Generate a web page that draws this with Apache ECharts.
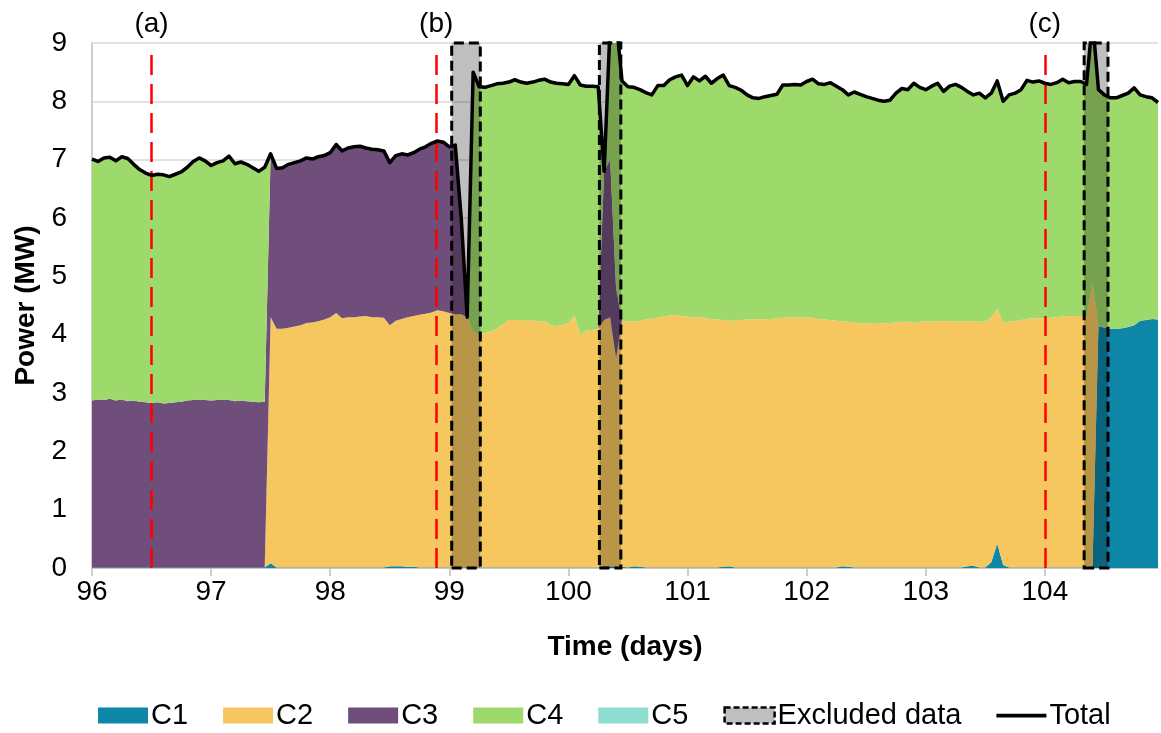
<!DOCTYPE html>
<html>
<head>
<meta charset="utf-8">
<script src="https://cdn.jsdelivr.net/npm/echarts@6/dist/echarts.min.js"></script>
<style>html,body{margin:0;padding:0;background:#fff}#c{width:1161px;height:733px}</style>
</head>
<body>
<div id="c"></div>
<script>
// sampling grid: start day and step (days)
const tStart = 96, tStep = 0.05;

const C1 = [
0.01,0.01,0.01,0.01,0.01,0.01,0.01,0.01,0.01,0.01,0.01,0.01,0.01,0.01,0.01,0.01,0.01,0.01,0.01,0.01,0.01,0.01,0.01,0.01,0.01,0.01,0.01,0.01,0.01,0.01,
0.08,0.01,0.01,0.01,0.01,0.01,0.01,0.01,0.01,0.01,0.01,0.01,0.01,0.01,0.01,0.01,0.01,0.01,0.01,0.01,
0.03,0.03,0.03,0.02,0.02,0.01,0.01,0.01,0.01,0.01,0.01,0.01,0.01,0.01,
0.01,0.01,0.01,0.01,0.01,0.01,0.01,0.01,0.01,0.01,0.01,0.01,0.01,0.01,0.01,0.01,0.01,0.01,0.01,0.01,0.01,0.01,
0.03,0.03,0.02,
0.02,0.01,0.03,0.02,0.01,0.01,0.01,0.01,0.01,0.01,0.01,0.01,0.01,0.01,0.01,0.01,0.01,0.02,0.03,
0.01,0.01,0.01,0.01,0.01,0.01,0.01,0.01,0.01,0.01,0.01,0.01,0.01,0.01,0.01,0.01,0.01,0.01,0.03,0.02,
0.01,0.01,0.01,0.01,0.01,0.01,0.01,0.01,0.01,0.01,0.01,0.01,0.01,0.01,0.01,0.01,0.01,0.01,0.01,0.03,0.04,
0.01,0.01,0.10,0.42,0.05,
0.01,0.01,0.01,0.01,0.01,0.01,0.01,0.01,0.01,0.01,0.01,0.01,0.01,0.01,0.01,
4.15,4.12,4.10,4.10,4.11,4.13,4.16,4.24,4.25,4.27,4.26
];

const C2 = [
0,0,0,0,0,0,0,0,0,0,0,0,0,0,0,0,0,0,0,0,0,0,0,0,0,0,0,0,0,0,
4.22,4.09,4.09,4.11,4.13,4.15,4.19,4.20,4.22,4.25,4.29,4.36,4.27,4.29,4.29,4.30,4.31,4.29,4.29,4.28,
4.13,4.21,4.24,4.28,4.30,4.33,4.35,4.37,4.41,4.39,4.36,4.34,4.34,4.29,
4.04,3.99,4.02,4.05,4.09,4.17,4.24,4.24,4.24,4.23,4.24,4.21,4.23,4.15,4.14,4.16,4.19,4.32,3.99,4.06,4.07,4.09,
4.22,4.27,3.58,
4.22,4.22,4.19,4.22,4.25,4.27,4.28,4.30,4.32,4.33,4.31,4.30,4.29,4.29,4.28,4.26,4.25,4.23,4.21,
4.23,4.24,4.25,4.26,4.25,4.26,4.26,4.27,4.28,4.29,4.29,4.29,4.29,4.28,4.26,4.25,4.24,4.23,4.20,4.20,
4.20,4.19,4.18,4.19,4.19,4.18,4.19,4.20,4.21,4.21,4.20,4.21,4.22,4.21,4.22,4.23,4.22,4.21,4.22,4.21,4.19,
4.21,4.21,4.20,4.02,4.16,
4.21,4.23,4.24,4.26,4.27,4.27,4.27,4.28,4.29,4.30,4.31,4.31,4.31,4.29,4.89,
0,0,0,0,0,0,0,0,0,0,0
];

const C3 = [
2.86,2.88,2.87,2.89,2.86,2.88,2.85,2.86,2.84,2.83,2.82,2.83,2.81,2.82,2.83,2.84,2.86,2.87,2.88,2.87,2.86,2.87,2.88,2.87,2.85,2.86,2.85,2.84,2.83,2.84,
2.80,2.75,2.76,2.80,2.81,2.82,2.83,2.80,2.82,2.81,2.82,2.89,2.87,2.90,2.92,2.92,2.88,2.88,2.87,2.86,
2.79,2.83,2.83,2.78,2.80,2.84,2.86,2.90,2.90,2.90,2.85,2.90,1.65,0,
0,0,0,0,0,0,0,0,0,0,0,0,0,0,0,0,0,0,0,0,0,0,
2.55,2.70,1.20,
0,0,0,0,0,0,0,0,0,0,0,0,0,0,0,0,0,0,0,
0,0,0,0,0,0,0,0,0,0,0,0,0,0,0,0,0,0,0,0,
0,0,0,0,0,0,0,0,0,0,0,0,0,0,0,0,0,0,0,0,0,
0,0,0,0,0,
0,0,0,0,0,0,0,0,0,0,0,0,0,0,0,
0,0,0,0,0,0,0,0,0,0,0
];

const C4 = [
4.14,4.08,4.15,4.14,4.11,4.16,4.16,4.05,3.98,3.93,3.90,3.91,3.92,3.88,3.91,3.94,4.00,4.09,4.14,4.10,4.03,4.07,4.09,4.18,4.07,4.09,4.06,4.01,3.96,4.02,
0,0,0,0,0,0,0,0,0,0,0,0,0,0,0,0,0,0,0,0,
0,0,0,0,0,0,0,0,0,0,0,0,0,0,
4.45,4.25,4.21,4.21,4.20,4.13,4.08,4.12,4.08,4.07,4.08,4.14,4.14,4.17,4.16,4.13,4.09,4.11,4.28,4.19,4.18,4.15,
0,2.30,4.60,
4.11,4.02,4.02,3.96,3.89,3.83,3.98,3.96,4.04,4.08,
4.13,3.96,4.12,4.05,4.14,4.04,4.13,4.20,4.03,4.00,
3.94,3.85,3.79,3.79,3.81,3.83,3.84,3.99,3.98,3.99,
3.98,4.04,4.09,4.03,4.03,4.07,4.02,3.97,3.89,3.95,
3.92,3.89,3.85,3.82,3.81,3.82,3.93,4.00,3.98,4.10,
4.02,3.97,4.04,4.08,3.93,4.03,4.07,4.01,3.93,3.88,
3.92,3.84,3.84,3.91,3.79,3.89,3.90,3.95,4.09,4.05,
4.07,4.03,4.00,4.02,4.07,4.00,4.02,4.02,3.99,4.50,
4.05,3.99,3.96,3.96,3.99,4.01,4.07,3.87,3.83,3.79,3.72
];

const C5 = [];

const Total = [
7.01,6.97,7.03,7.04,6.98,7.05,7.02,6.92,6.83,6.77,6.73,6.75,6.74,6.71,6.75,6.79,6.87,6.97,7.03,6.98,6.90,6.95,6.98,7.06,6.93,6.96,6.92,6.86,6.80,6.87,
7.10,6.85,6.86,6.92,6.95,6.98,7.03,7.01,7.05,7.07,7.12,7.26,7.15,7.20,7.22,7.23,7.20,7.18,7.17,7.15,
6.95,7.07,7.10,7.08,7.12,7.18,7.22,7.28,7.32,7.30,7.22,7.25,6.00,4.30,
8.50,8.25,8.24,8.27,8.30,8.31,8.33,8.37,8.33,8.31,8.33,8.36,8.38,8.33,8.31,8.30,8.29,8.44,8.28,8.26,8.26,8.25,
6.80,9.30,9.40,
8.35,8.25,8.24,8.20,8.15,8.11,8.27,8.27,8.37,8.42,
8.45,8.27,8.42,8.35,8.43,8.31,8.39,8.45,8.27,8.24,
8.19,8.11,8.06,8.05,8.08,8.10,8.12,8.28,8.28,8.29,
8.28,8.34,8.38,8.30,8.29,8.32,8.26,8.20,8.11,8.16,
8.12,8.08,8.05,8.02,8.00,8.02,8.14,8.22,8.20,8.31,
8.24,8.20,8.26,8.31,8.17,8.26,8.29,8.24,8.17,8.11,
8.14,8.06,8.14,8.35,8.00,8.11,8.14,8.20,8.36,8.33,
8.35,8.31,8.29,8.32,8.38,8.32,8.34,8.34,8.29,9.40,
8.20,8.11,8.06,8.06,8.10,8.14,8.23,8.11,8.08,8.06,7.98
];

// excluded intervals (days)
const excludedStart = [99.02, 100.26, 104.33];
const excludedEnd   = [99.26, 100.44, 104.53];
// event markers
const eventTimes  = [96.5, 98.89, 104.0];
const eventLabels = ['(a)', '(b)', '(c)'];
const eventTop = 8.88;
// axis ticks
const xTicks = [96, 97, 98, 99, 100, 101, 102, 103, 104];
const yTicks = [0, 1, 2, 3, 4, 5, 6, 7, 8, 9];

const times = Total.map((_, i) => +(tStart + i * tStep).toFixed(2));
// rows are [value, time]; encode maps time to x and value to y so stacking is on y
const rows = arr => arr.map((v, i) => [v, times[i]]);

const colors = {C1:'#0E86A8', C2:'#F7C75F', C3:'#704E7B', C4:'#9ED96B', C5:'#8DDDD0'};
const FONT = "'Liberation Sans', Arial, sans-serif";

function areaSeries(name, arr) {
  return {
    name, type: 'line', stack: 'power', data: rows(arr),
    encode: {x: 1, y: 0},
    symbol: 'none', showSymbol: false,
    lineStyle: {width: 0}, itemStyle: {color: colors[name]},
    areaStyle: {color: colors[name], opacity: 1},
    z: 2, silent: true, emphasis: {disabled: true}
  };
}

const chart = echarts.init(document.getElementById('c'), null, {renderer: 'canvas'});
chart.setOption({
  animation: false,
  textStyle: {fontFamily: FONT},
  grid: {left: 92, right: 3, top: 43, bottom: 165},
  xAxis: {
    type: 'value', min: 96, max: 104.95, interval: 1,
    axisLine: {show: true, onZero: false, lineStyle: {color: '#bfbfbf', width: 1.5}},
    axisTick: {show: true, length: 8, lineStyle: {color: '#bfbfbf', width: 1.5}, customValues: xTicks},
    axisLabel: {customValues: xTicks, fontSize: 28, color: '#000', margin: 10, fontFamily: FONT},
    splitLine: {show: false},
    name: 'Time (days)', nameLocation: 'middle', nameGap: 65,
    nameTextStyle: {fontSize: 28, fontWeight: 'bold', color: '#000', fontFamily: FONT}
  },
  yAxis: {
    type: 'value', min: 0, max: 9, interval: 1,
    axisLine: {show: true, lineStyle: {color: '#bfbfbf', width: 1.5}},
    axisTick: {show: false},
    axisLabel: {fontSize: 28, color: '#000', margin: 25, fontFamily: FONT,
      formatter: v => yTicks.includes(v) ? String(v) : ''},
    splitLine: {show: true, lineStyle: {color: '#d9d9d9', width: 1.5}},
    name: 'Power (MW)', nameLocation: 'middle', nameGap: 52,
    nameTextStyle: {fontSize: 28, fontWeight: 'bold', color: '#000', fontFamily: FONT}
  },
  legend: {
    left: 98, top: 701, padding: 0, itemWidth: 50, itemHeight: 16, itemGap: 35,
    textStyle: {fontSize: 29, color: '#000', fontFamily: FONT, padding: [0, 0, 0, -2]},
    selectedMode: false,
    data: [
      {name: 'C1', icon: 'rect', itemStyle: {color: colors.C1}},
      {name: 'C2', icon: 'rect', itemStyle: {color: colors.C2}},
      {name: 'C3', icon: 'rect', itemStyle: {color: colors.C3}},
      {name: 'C4', icon: 'rect', itemStyle: {color: colors.C4}},
      {name: 'C5', icon: 'rect', itemStyle: {color: colors.C5}},
      {name: 'Excluded data', icon: 'rect', itemStyle: {color: '#bfbfbf', borderColor: '#000', borderWidth: 2.5, borderType: [6, 3]}},
      {name: 'Total', icon: 'path://M0,0h0.05v0.05h-0.05z M0,6.3h50v3.6h-50z M49.95,15.95h0.05v0.05h-0.05z',
        itemStyle: {color: '#000'}}
    ]
  },
  series: [
    areaSeries('C1', C1),
    areaSeries('C2', C2),
    areaSeries('C3', C3),
    areaSeries('C4', C4),
    areaSeries('C5', C5),
    {
      name: 'Excluded data', type: 'line', data: [], clip: false, z: 3, silent: true,
      itemStyle: {color: '#bfbfbf'},
      markArea: {
        silent: true, z: 3,
        itemStyle: {color: 'rgba(0,0,0,0.25)', borderColor: '#000', borderWidth: 3, borderType: [10, 5]},
        data: excludedStart.map((s, k) => [{xAxis: s}, {xAxis: excludedEnd[k]}])
      },
      markLine: {
        silent: true, symbol: 'none', animation: false, z: 3,
        lineStyle: {color: '#ff0000', width: 2.5, type: [20, 9]},
        label: {show: true, position: 'end', distance: 12, fontSize: 28, color: '#000', fontFamily: FONT,
          formatter: p => eventLabels[p.dataIndex]},
        data: eventTimes.map(t => [{coord: [t, 0]}, {coord: [t, eventTop]}])
      }
    },
    {
      name: 'Total', type: 'line', data: rows(Total), encode: {x: 1, y: 0},
      symbol: 'none', showSymbol: false,
      lineStyle: {color: '#000', width: 3.5, join: 'round'}, itemStyle: {color: '#000'},
      z: 4, silent: true, emphasis: {disabled: true}
    }
  ]
});
</script>
</body>
</html>
